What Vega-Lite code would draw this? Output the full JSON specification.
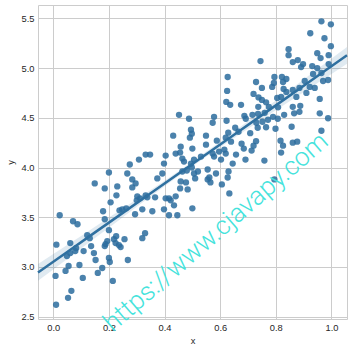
{
  "$schema": "https://vega.github.io/schema/vega-lite/v6.json",
  "width": 309,
  "height": 314,
  "autosize": {"type": "none"},
  "padding": {"left": 38, "top": 5, "right": 5, "bottom": 33},
  "background": "white",
  "datasets": {
    "pts": [
      {"x":0.011,"y":3.224},{"x":0.061,"y":3.24},{"x":0.008,"y":2.91},{"x":0.010,"y":2.62},{"x":0.053,"y":2.69},
      {"x":0.065,"y":2.76},{"x":0.044,"y":2.96},{"x":0.055,"y":3.01},{"x":0.049,"y":3.11},{"x":0.061,"y":3.14},
      {"x":0.079,"y":3.16},{"x":0.094,"y":3.02},{"x":0.106,"y":2.89},{"x":0.109,"y":3.16},{"x":0.082,"y":3.19},
      {"x":0.071,"y":3.46},{"x":0.087,"y":3.43},{"x":0.122,"y":3.32},{"x":0.131,"y":3.29},{"x":0.136,"y":3.21},
      {"x":0.146,"y":3.14},{"x":0.152,"y":3.07},{"x":0.160,"y":2.94},{"x":0.176,"y":2.99},{"x":0.185,"y":3.21},
      {"x":0.194,"y":3.26},{"x":0.200,"y":3.37},{"x":0.203,"y":3.05},{"x":0.214,"y":2.86},{"x":0.218,"y":3.28},
      {"x":0.224,"y":3.24},{"x":0.236,"y":3.22},{"x":0.023,"y":3.52},{"x":0.200,"y":3.95},{"x":0.149,"y":3.84},
      {"x":0.185,"y":3.79},{"x":0.230,"y":3.81},{"x":0.227,"y":3.72},{"x":0.206,"y":3.65},{"x":0.179,"y":3.56},
      {"x":0.185,"y":3.48},{"x":0.238,"y":3.57},{"x":0.248,"y":3.58},{"x":0.262,"y":3.59},{"x":0.294,"y":3.53},
      {"x":0.300,"y":3.67},{"x":0.312,"y":3.69},{"x":0.320,"y":3.58},{"x":0.338,"y":3.70},{"x":0.356,"y":3.56},
      {"x":0.366,"y":3.70},{"x":0.398,"y":3.58},{"x":0.404,"y":3.69},{"x":0.416,"y":3.69},{"x":0.422,"y":3.67},
      {"x":0.440,"y":3.71},{"x":0.434,"y":3.62},{"x":0.416,"y":3.52},{"x":0.446,"y":3.52},{"x":0.500,"y":3.59},
      {"x":0.188,"y":3.23},{"x":0.242,"y":3.20},{"x":0.256,"y":3.28},{"x":0.320,"y":3.29},{"x":0.330,"y":3.34},
      {"x":0.200,"y":3.09},{"x":0.226,"y":3.31},{"x":0.268,"y":3.07},
      {"x":0.452,"y":4.53},{"x":0.488,"y":4.49},{"x":0.578,"y":4.51},{"x":0.573,"y":4.45},{"x":0.623,"y":4.47},
      {"x":0.495,"y":4.38},{"x":0.498,"y":4.34},{"x":0.491,"y":4.30},{"x":0.431,"y":4.32},{"x":0.549,"y":4.32},
      {"x":0.629,"y":4.35},{"x":0.620,"y":4.30},{"x":0.458,"y":4.21},{"x":0.549,"y":4.23},{"x":0.588,"y":4.27},
      {"x":0.440,"y":4.14},{"x":0.456,"y":4.15},{"x":0.500,"y":4.19},{"x":0.404,"y":4.12},{"x":0.332,"y":4.13},
      {"x":0.348,"y":4.13},{"x":0.308,"y":4.08},{"x":0.470,"y":4.06},{"x":0.495,"y":4.04},{"x":0.506,"y":4.08},
      {"x":0.578,"y":4.11},{"x":0.603,"y":4.08},{"x":0.620,"y":4.14},{"x":0.275,"y":4.03},{"x":0.398,"y":4.04},
      {"x":0.392,"y":3.94},{"x":0.464,"y":3.96},{"x":0.480,"y":3.97},{"x":0.506,"y":3.94},{"x":0.520,"y":3.96},
      {"x":0.585,"y":3.94},{"x":0.630,"y":3.96},{"x":0.266,"y":3.94},{"x":0.374,"y":3.89},{"x":0.284,"y":3.88},
      {"x":0.296,"y":3.84},{"x":0.284,"y":3.80},{"x":0.458,"y":3.86},{"x":0.477,"y":3.85},{"x":0.456,"y":3.79},
      {"x":0.483,"y":3.78},{"x":0.555,"y":3.88},{"x":0.565,"y":3.85},{"x":0.606,"y":3.83},{"x":0.302,"y":3.71},
      {"x":0.332,"y":3.72},{"x":0.633,"y":3.74},
      {"x":0.627,"y":4.91},{"x":0.625,"y":4.77},{"x":0.622,"y":4.66},{"x":0.636,"y":4.63},{"x":0.675,"y":4.63},
      {"x":0.720,"y":4.74},{"x":0.738,"y":4.705},{"x":0.750,"y":4.68},{"x":0.765,"y":4.655},{"x":0.737,"y":4.61},
      {"x":0.775,"y":4.61},{"x":0.808,"y":4.605},{"x":0.861,"y":4.61},{"x":0.888,"y":4.62},
      {"x":0.687,"y":4.52},{"x":0.692,"y":4.49},{"x":0.716,"y":4.53},{"x":0.736,"y":4.54},{"x":0.760,"y":4.55},
      {"x":0.730,"y":4.45},{"x":0.752,"y":4.46},{"x":0.772,"y":4.48},{"x":0.790,"y":4.51},{"x":0.807,"y":4.49},
      {"x":0.830,"y":4.53},{"x":0.866,"y":4.545},{"x":0.885,"y":4.56},{"x":0.958,"y":4.545},{"x":0.988,"y":4.495},
      {"x":0.654,"y":4.40},{"x":0.666,"y":4.36},{"x":0.708,"y":4.345},{"x":0.735,"y":4.40},{"x":0.765,"y":4.405},
      {"x":0.799,"y":4.39},{"x":0.857,"y":4.41},{"x":0.964,"y":4.37},
      {"x":0.639,"y":4.26},{"x":0.677,"y":4.24},{"x":0.685,"y":4.19},{"x":0.720,"y":4.22},{"x":0.729,"y":4.265},
      {"x":0.713,"y":4.17},{"x":0.817,"y":4.27},{"x":0.826,"y":4.22},{"x":0.819,"y":4.15},{"x":0.861,"y":4.25},
      {"x":0.877,"y":4.26},{"x":0.531,"y":4.11},{"x":0.573,"y":4.14},{"x":0.596,"y":4.16},{"x":0.615,"y":4.18},
      {"x":0.657,"y":4.13},{"x":0.691,"y":4.08},{"x":0.759,"y":4.07},{"x":0.645,"y":4.04},{"x":0.464,"y":4.09},
      {"x":0.498,"y":4.00},{"x":0.555,"y":3.98},{"x":0.627,"y":3.90},{"x":0.510,"y":3.89},{"x":0.561,"y":3.90},
      {"x":0.795,"y":3.88},
      {"x":0.964,"y":5.47},{"x":0.998,"y":5.44},{"x":0.924,"y":5.35},{"x":0.975,"y":5.30},{"x":0.998,"y":5.22},
      {"x":0.846,"y":5.19},{"x":0.846,"y":5.13},{"x":0.949,"y":5.15},{"x":0.961,"y":5.10},{"x":0.990,"y":5.13},
      {"x":0.745,"y":5.07},{"x":0.861,"y":5.06},{"x":0.879,"y":5.08},{"x":0.891,"y":5.01},{"x":0.931,"y":5.02},
      {"x":0.949,"y":5.00},{"x":0.990,"y":5.04},{"x":0.964,"y":4.95},{"x":0.934,"y":4.94},{"x":0.795,"y":4.91},
      {"x":0.822,"y":4.91},{"x":0.838,"y":4.89},{"x":0.826,"y":4.86},{"x":0.793,"y":4.85},{"x":0.904,"y":4.87},
      {"x":0.970,"y":4.87},{"x":0.988,"y":4.88},{"x":0.729,"y":4.86},{"x":0.750,"y":4.80},{"x":0.787,"y":4.81},
      {"x":0.828,"y":4.79},{"x":0.838,"y":4.76},{"x":0.922,"y":4.81},{"x":0.940,"y":4.80},{"x":0.805,"y":4.70},
      {"x":0.819,"y":4.71},{"x":0.874,"y":4.71},{"x":0.910,"y":4.75},{"x":0.958,"y":4.69},{"x":0.898,"y":5.04},
      {"x":0.861,"y":4.78},{"x":0.885,"y":4.80}
    ],
    "fit": [
      {"x":-0.055,"fit":2.945,"lo":2.861,"hi":3.029},
      {"x":0.05,"fit":3.151,"lo":3.081,"hi":3.221},
      {"x":0.15,"fit":3.348,"lo":3.291,"hi":3.405},
      {"x":0.25,"fit":3.544,"lo":3.500,"hi":3.588},
      {"x":0.35,"fit":3.741,"lo":3.708,"hi":3.774},
      {"x":0.45,"fit":3.937,"lo":3.911,"hi":3.963},
      {"x":0.55,"fit":4.134,"lo":4.108,"hi":4.160},
      {"x":0.65,"fit":4.330,"lo":4.297,"hi":4.363},
      {"x":0.75,"fit":4.527,"lo":4.483,"hi":4.571},
      {"x":0.85,"fit":4.723,"lo":4.666,"hi":4.780},
      {"x":0.95,"fit":4.920,"lo":4.850,"hi":4.990},
      {"x":1.056,"fit":5.128,"lo":5.044,"hi":5.212}
    ],
    "note": [
      {"label":"https://www.cjavapy.com","x":0.585,"y":3.35}
    ]
  },
  "layer": [
    {
      "data": {"name": "pts"},
      "mark": {"type": "point", "filled": true, "shape": "circle", "size": 40, "color": "#2b6c9e", "opacity": 0.85},
      "encoding": {
        "x": {"field": "x", "type": "quantitative", "title": "x", "scale": {"domain": [-0.055, 1.056], "nice": false, "zero": false}, "axis": {"values": [0, 0.2, 0.4, 0.6, 0.8, 1.0], "format": ".1f"}},
        "y": {"field": "y", "type": "quantitative", "title": "y", "scale": {"domain": [2.477, 5.634], "nice": false, "zero": false}, "axis": {"values": [2.5, 3.0, 3.5, 4.0, 4.5, 5.0, 5.5], "format": ".1f"}}
      }
    },
    {
      "data": {"name": "fit"},
      "mark": {"type": "area", "color": "#3274a1", "opacity": 0.15, "interpolate": "monotone"},
      "encoding": {
        "x": {"field": "x", "type": "quantitative", "title": "x"},
        "y": {"field": "lo", "type": "quantitative", "title": "y"},
        "y2": {"field": "hi"}
      }
    },
    {
      "data": {"name": "fit"},
      "mark": {"type": "line", "color": "#2f70a0", "strokeWidth": 2.5},
      "encoding": {
        "x": {"field": "x", "type": "quantitative", "title": "x"},
        "y": {"field": "fit", "type": "quantitative", "title": "y"}
      }
    },
    {
      "data": {"name": "note"},
      "mark": {"type": "text", "angle": -41, "align": "center", "baseline": "middle", "font": "Roboto", "fontWeight": 300, "fontSize": 26, "color": "#45e3dc"},
      "encoding": {
        "x": {"field": "x", "type": "quantitative", "title": "x"},
        "y": {"field": "y", "type": "quantitative", "title": "y"},
        "text": {"field": "label"}
      }
    }
  ],
  "config": {
    "view": {"stroke": "#cccccc", "strokeWidth": 1},
    "axis": {
      "grid": true, "gridColor": "#cccccc", "gridWidth": 1, "domain": false, "ticks": false,
      "labelFont": "Liberation Sans", "labelFontSize": 9.3, "labelColor": "#262626", "labelPadding": 4,
      "titleFont": "Liberation Sans", "titleFontSize": 9.3, "titleFontWeight": "normal", "titleColor": "#262626"
    },
    "axisX": {"titlePadding": 4},
    "axisY": {"titlePadding": 6}
  }
}
